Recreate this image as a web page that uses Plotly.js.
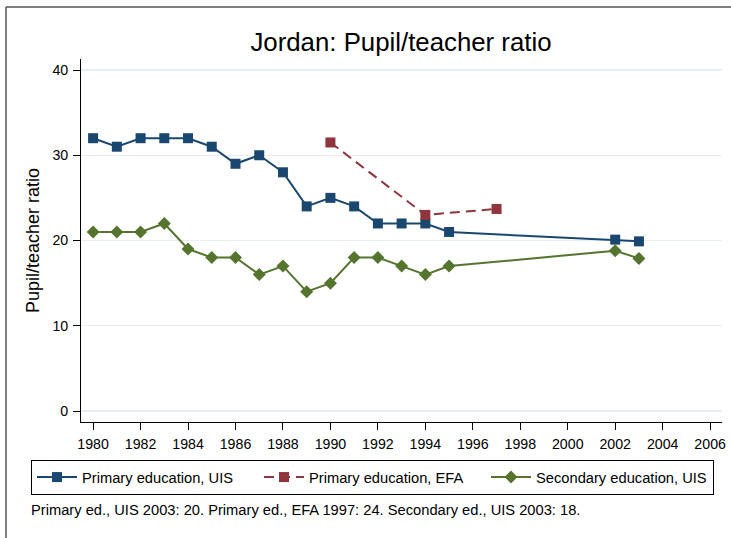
<!DOCTYPE html>
<html>
<head>
<meta charset="utf-8">
<script src="https://cdn.plot.ly/plotly-3.0.1.min.js"></script>
<style>body{margin:0;padding:0;background:#fff}#chart{width:731px;height:538px}</style>
</head>
<body>
<div id="chart"></div>
<script>
const yearsPrimaryUIS = [1980,1981,1982,1983,1984,1985,1986,1987,1988,1989,1990,1991,1992,1993,1994,1995,2002,2003];
const primaryUIS = [32,31,32,32,32,31,29,30,28,24,25,24,22,22,22,21,20.1,19.9];
const yearsPrimaryEFA = [1990,1994,1997];
const primaryEFA = [31.5,23.0,23.7];
const yearsSecondaryUIS = [1980,1981,1982,1983,1984,1985,1986,1987,1988,1989,1990,1991,1992,1993,1994,1995,2002,2003];
const secondaryUIS = [21,21,21,22,19,18,18,16,17,14,15,18,18,17,16,17,18.8,17.9];
const seriesNames = ["Primary education, UIS","Primary education, EFA","Secondary education, UIS"];
const xTicks = [1980,1982,1984,1986,1988,1990,1992,1994,1996,1998,2000,2002,2004,2006];
const yTicks = [0,10,20,30,40];
const titleText = "Jordan: Pupil/teacher ratio";
const yTitle = "Pupil/teacher ratio";
const noteText = "Primary ed., UIS 2003: 20. Primary ed., EFA 1997: 24. Secondary ed., UIS 2003: 18.";

const font = "Liberation Sans, Arial, sans-serif";
const traces = [
  {x: yearsPrimaryUIS, y: primaryUIS, name: seriesNames[0], mode: "lines+markers",
   line: {color: "#1a476f", width: 2}, marker: {symbol: "square", size: 10, color: "#1a476f"}},
  {x: yearsPrimaryEFA, y: primaryEFA, name: seriesNames[1], mode: "lines+markers",
   line: {color: "#90353b", width: 2, dash: "10px,6px"}, marker: {symbol: "square", size: 10, color: "#90353b"}},
  {x: yearsSecondaryUIS, y: secondaryUIS, name: seriesNames[2], mode: "lines+markers",
   line: {color: "#55752f", width: 2}, marker: {symbol: "diamond", size: 10, color: "#55752f"}}
];
const L = 81, R = 722, T = 59, B = 422;
const W = R - L, H = B - T;
const px = v => (v - L) / W;
const py = v => (B - v) / H;
const layout = {
  width: 731, height: 538,
  margin: {l: L, r: 731 - R, t: T, b: 538 - B},
  paper_bgcolor: "#fff", plot_bgcolor: "#fff",
  font: {family: font, color: "#000", size: 14},
  title: {text: titleText, xref: "paper", x: px(401), xanchor: "center", yref: "container", y: 1 - 42/538, yanchor: "middle",
    font: {size: 25.8, family: font, color: "#000"}},
  xaxis: {range: [1979.49, 2006.5], tickvals: xTicks, ticktext: xTicks.map(String), ticks: "outside", ticklen: 7,
    tickcolor: "#000", showline: true, linecolor: "#000", linewidth: 1, showgrid: false, zeroline: false,
    tickfont: {size: 14.2}, ticklabelstandoff: 2},
  yaxis: {range: [-1.29, 41.29], tickvals: yTicks, ticks: "outside", ticklen: 7, tickcolor: "#000",
    showline: true, linecolor: "#000", linewidth: 1, showgrid: true, gridcolor: "#e6eef1", gridwidth: 1.2, zeroline: false,
    tickfont: {size: 14.2}, ticklabelstandoff: 2, title: {text: yTitle, font: {size: 18}, standoff: 8}},
  showlegend: true,
  legend: {orientation: "h", x: px(31), xanchor: "left", y: py(460), yanchor: "top",
    bordercolor: "#000", borderwidth: 1, font: {size: 14.7}, entrywidth: 172, entrywidthmode: "pixels",
    itemwidth: 40, tracegroupgap: 0},
  annotations: [{text: noteText, xref: "paper", yref: "paper", x: px(29), y: py(510), xanchor: "left", yanchor: "middle",
    showarrow: false, font: {size: 14.7}}],
  shapes: [
    {type: "line", xref: "paper", yref: "paper", x0: px(6), x1: px(731), y0: py(7), y1: py(7), line: {color: "#555", width: 1.5}},
    {type: "line", xref: "paper", yref: "paper", x0: px(6), x1: px(6), y0: py(7), y1: py(538), line: {color: "#555", width: 1.5}}
  ]
};
Plotly.newPlot("chart", traces, layout, {displayModeBar: false, staticPlot: true});
</script>
</body>
</html>
